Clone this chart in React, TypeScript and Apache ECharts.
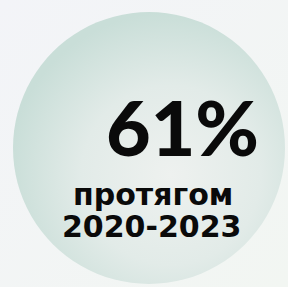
import React, { useEffect, useRef } from "react";
import * as echarts from "echarts";

const headline: string[] = ["61%"];
const subtitleLines: string[] = ["протягом", "2020-2023"];

export default function App() {
  const ref = useRef<HTMLDivElement>(null);
  useEffect(() => {
    if (!ref.current) return;
    const chart = echarts.init(ref.current, undefined, { renderer: "svg" });
    const option: any = {
      animation: false,
      backgroundColor: {
        type: "linear",
        x: 0,
        y: 0,
        x2: 1,
        y2: 1,
        colorStops: [
          { offset: 0, color: "#f3f4f8" },
          { offset: 1, color: "#f2f6f2" },
        ],
      },
      graphic: [
        {
          type: "circle",
          shape: { cx: 149, cy: 148, r: 136 },
          style: {
            fill: {
              type: "radial",
              x: 0.58,
              y: 0.6,
              r: 0.6,
              colorStops: [
                { offset: 0, color: "#eef1ef" },
                { offset: 0.55, color: "#e2ebe8" },
                { offset: 1, color: "#c9ded8" },
              ],
            },
          },
        },
        {
          type: "text",
          x: 106,
          y: 126,
          style: {
            text: headline[0],
            fontFamily: "Lato",
            fontWeight: 900,
            fontSize: 77,
            fill: "#0a0a0a",
            align: "left",
            verticalAlign: "middle",
          },
        },
        {
          type: "text",
          x: 73,
          y: 194,
          style: {
            text: subtitleLines[0],
            fontFamily: "DejaVu Sans",
            fontWeight: "bold",
            fontSize: 30,
            fill: "#0a0a0a",
            align: "left",
            verticalAlign: "middle",
          },
        },
        {
          type: "text",
          x: 62,
          y: 226,
          style: {
            text: subtitleLines[1],
            fontFamily: "DejaVu Sans",
            fontWeight: "bold",
            fontSize: 30,
            fill: "#0a0a0a",
            align: "left",
            verticalAlign: "middle",
          },
        },
      ],
    };
    chart.setOption(option);
    return () => chart.dispose();
  }, []);
  return <div ref={ref} style={{ width: 288, height: 287, position: "absolute", left: 0, top: 0 }} />;
}
